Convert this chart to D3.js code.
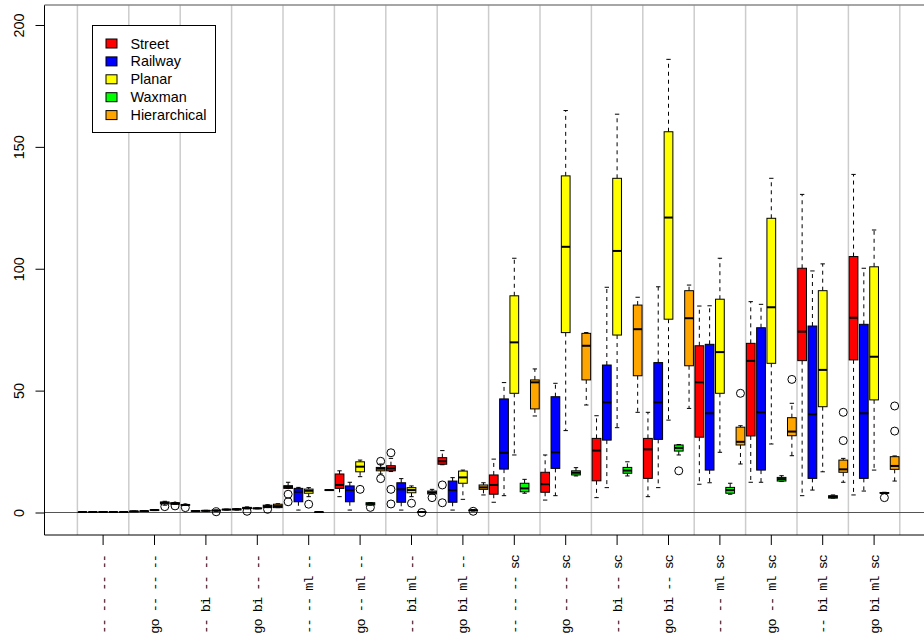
<!DOCTYPE html>
<html>
<head>
<meta charset="utf-8">
<script src="https://cdn.jsdelivr.net/npm/d3@7"></script>
<style>
	body { margin: 0; background: #fff; }
	svg { display: block; }
</style>
</head>
<body>
<div id="chart"></div>
<script>
const groups = ['-- -- -- --', 'go -- -- --', '-- bi -- --', 'go bi -- --', '-- -- ml --', 'go -- ml --', '-- bi ml --', 'go bi ml --',
	'-- -- -- sc', 'go -- -- sc', '-- bi -- sc', 'go bi -- sc', '-- -- ml sc', 'go -- ml sc', '-- bi ml sc', 'go bi ml sc'];
const series = ['Street', 'Railway', 'Planar', 'Waxman', 'Hierarchical'];
const colors = ['#ff0000', '#0000ff', '#ffff00', '#00ff00', '#ffa500'];
const yTicks = [0, 50, 100, 150, 200];

// per group: [lower whisker, q1, median, q3, upper whisker]
const street = [[0.1, 0.1, 0.2, 0.2, 0.3], [0.4, 0.4, 0.5, 0.5, 0.6], [2.9, 3.0, 3.1, 3.2, 3.3], [1.0, 1.1, 1.3, 1.5, 1.6],
	[9.9, 9.9, 10.5, 11, 12.4], [6.5, 9.9, 11.3, 15.8, 17.1], [16.8, 17.1, 18.1, 19.2, 22.2], [19.6, 19.8, 21, 22.5, 25.4],
	[4.2, 7.5, 11.3, 15.4, 21.9], [5.1, 8.3, 11.6, 16.5, 23.6], [6.1, 13, 25.4, 30.4, 39.7], [6.5, 14, 25.9, 30.4, 41.1],
	[11.6, 30.9, 53.4, 68.4, 84.7], [12.4, 31.4, 62.2, 69.4, 86.5], [6.9, 62.3, 74.2, 100.2, 130.5], [7.2, 62.6, 79.9, 105, 138.7]];
const streetOut = [[], [], [2.0], [], [7.5, 4.4], [], [24.5, 9.5, 3.5], [11.3, 4.0], [], [], [], [], [], [], [], []];

const railway = [[0.1, 0.1, 0.2, 0.2, 0.3], [0.5, 0.5, 0.6, 0.6, 0.7], [0.5, 0.5, 0.6, 0.7, 0.8], [1.5, 1.6, 1.8, 2.1, 2.3],
	[1.0, 4.4, 8.5, 9.9, 10.3], [1.0, 4.4, 9.2, 10.9, 12.4], [1.0, 4.2, 9.5, 12.2, 13.9], [1.0, 4.2, 9.2, 12.9, 14.3],
	[6.9, 17.8, 24.5, 46.6, 53.3], [6.9, 18.1, 24.7, 47.5, 53], [10.2, 29.7, 45.2, 60.5, 92.4], [10.2, 30, 45.2, 61.5, 92.6],
	[12.2, 17.4, 40.7, 69, 84.8], [12.4, 17.4, 41.1, 75.8, 85.4], [9.2, 14, 40.3, 76.5, 99.1], [8.8, 14, 40.7, 77.2, 100.2]];
const railwayOut = [[], [], [], [0.5], [], [], [], [], [], [], [], [], [], [], [], []];

const planar = [[0.1, 0.2, 0.2, 0.3, 0.3], [0.8, 0.9, 1.0, 1.1, 1.2], [0.5, 0.6, 0.7, 0.8, 0.9], [1.5, 1.6, 1.7, 1.8, 1.9],
	[6.5, 7.9, 8.9, 9.6, 10.2], [14.7, 16.7, 18.8, 20.8, 21.5], [6.5, 8.1, 9.2, 10.2, 10.9], [5.4, 12, 14.4, 17, 17.4],
	[23.6, 48.9, 69.8, 88.9, 104.3], [33.6, 73.8, 109, 138.1, 164.9], [34.8, 72.8, 107.3, 137.1, 163.4], [37.9, 79.3, 121, 156.2, 185.9],
	[24.7, 48.9, 65.8, 87.5, 104.3], [28.1, 61.2, 84.2, 120.7, 137.1], [16.7, 43.4, 58.5, 91, 102], [17.4, 46.2, 63.9, 100.8, 115.9]];
const planarOut = [[], [], [], [], [3.4], [9.5], [3.8], [], [], [], [], [], [], [], [], []];

const waxman = [[0.1, 0.1, 0.2, 0.2, 0.3], [3.0, 3.5, 4.0, 4.3, 4.6], [0.5, 0.7, 0.8, 0.9, 1.0], [2.0, 2.1, 2.5, 3.0, 3.2],
	[0.1, 0.1, 0.2, 0.2, 0.3], [3.0, 3.1, 3.6, 4.0, 4.1], [0.1, 0.1, 0.2, 0.2, 0.3], [0.6, 0.8, 0.9, 1.0, 1.2],
	[7.9, 8.5, 9.9, 12, 13.6], [15, 15.4, 16.3, 17.1, 18.4], [15, 16.1, 17.2, 18.5, 20.8], [23.6, 25.2, 26.5, 27.7, 27.9],
	[7.5, 7.9, 9.2, 10.3, 12], [12.7, 12.9, 13.7, 14.4, 15.1], [5.9, 5.9, 6.4, 6.9, 7.2], [7.8, 7.9, 8.0, 8.2, 8.3]];
const waxmanOut = [[], [2.4], [0.3], [1.3], [], [2.1], [0.0], [0.5], [], [], [], [17.1], [], [], [], [6.1]];

const hierarchical = [[0.1, 0.1, 0.2, 0.2, 0.3], [3.3, 3.4, 3.7, 4.0, 4.1], [1.0, 1.1, 1.2, 1.3, 1.4], [2.0, 2.0, 2.6, 3.4, 3.6],
	[9.1, 9.1, 9.2, 9.3, 9.3], [15.8, 17.1, 18, 18.5, 19.9], [7.6, 7.6, 8.2, 8.8, 9.5], [7.2, 9.5, 10.3, 11.3, 12.2],
	[39.6, 42.5, 53.4, 54.4, 58.9], [44.1, 54.4, 68.4, 73.5, 73.8], [41.1, 56.1, 75.2, 85.1, 88.3], [42.7, 60.2, 79.7, 91, 93.3],
	[19.9, 27.7, 29, 35, 35.6], [23.3, 31.5, 33.2, 38.9, 44.8], [12.4, 16.5, 17.7, 21.5, 22.2], [12.9, 17.7, 19.1, 22.9, 23.2]];
const hierarchicalOut = [[], [2.7], [], [], [], [21, 13.9], [6.1], [], [], [], [], [], [48.9], [54.6], [41.1, 29.5], [43.7, 33.4]];

const stats = [street, railway, planar, waxman, hierarchical];
const outliers = [streetOut, railwayOut, planarOut, waxmanOut, hierarchicalOut];

const width = 924;
const height = 642;
const plotLeft = 44.5;
const plotRight = 924;
const plotTop = 5;
const plotBottom = 535;

const svg = d3.select('#chart')
	.append('svg')
	.attr('width', width)
	.attr('height', height)
	.attr('viewBox', [0, 0, width, height]);

// scales
const x = d3.scaleBand().domain(groups).range([77.4, 899.8]);
const xs = d3.scaleBand().domain(series).range([0, x.bandwidth()]).paddingInner(0.15).paddingOuter(0.075);
const y = d3.scaleLinear().domain([-9.23, 208.2]).range([plotBottom, plotTop]);

let boxes = [];
series.forEach((s, si) => {
	groups.forEach((g, gi) => {
		const st = stats[si][gi];
		boxes.push({ series: s, group: g, color: colors[si], lo: st[0], q1: st[1], med: st[2], q3: st[3], hi: st[4], out: outliers[si][gi] });
	});
});
const cx = (d) => x(d.group) + xs(d.series) + xs.bandwidth() / 2;
const bw = xs.bandwidth();

// group separators
svg.append('g')
	.selectAll('line')
	.data(groups.concat(['end']))
	.enter()
	.append('line')
	.attr('x1', (d) => d === 'end' ? x.range()[1] : x(d))
	.attr('x2', (d) => d === 'end' ? x.range()[1] : x(d))
	.attr('y1', plotTop)
	.attr('y2', plotBottom)
	.style('stroke', '#cccccc')
	.style('stroke-width', 1.5);

// zero line
svg.append('line')
	.attr('x1', plotLeft).attr('x2', plotRight)
	.attr('y1', y(0)).attr('y2', y(0))
	.style('stroke', '#555')
	.style('stroke-width', 1);

const bx = svg.append('g').selectAll('g').data(boxes).enter().append('g');

// whiskers
bx.append('line')
	.attr('x1', cx).attr('x2', cx)
	.attr('y1', (d) => y(d.q3)).attr('y2', (d) => y(d.hi))
	.style('stroke', '#000').style('stroke-dasharray', '4,4');
bx.append('line')
	.attr('x1', cx).attr('x2', cx)
	.attr('y1', (d) => y(d.q1)).attr('y2', (d) => y(d.lo))
	.style('stroke', '#000').style('stroke-dasharray', '4,4');
bx.selectAll('.staple')
	.data((d) => [[d, d.hi], [d, d.lo]])
	.enter()
	.append('line')
	.attr('class', 'staple')
	.attr('x1', (p) => cx(p[0]) - bw / 4).attr('x2', (p) => cx(p[0]) + bw / 4)
	.attr('y1', (p) => y(p[1])).attr('y2', (p) => y(p[1]))
	.style('stroke', '#000');

// boxes
bx.append('rect')
	.attr('x', (d) => cx(d) - bw / 2)
	.attr('width', bw)
	.attr('y', (d) => y(d.q3))
	.attr('height', (d) => Math.max(y(d.q1) - y(d.q3), 0.5))
	.style('fill', (d) => d.color)
	.style('stroke', '#000')
	.style('stroke-width', 1);
bx.append('line')
	.attr('x1', (d) => cx(d) - bw / 2).attr('x2', (d) => cx(d) + bw / 2)
	.attr('y1', (d) => y(d.med)).attr('y2', (d) => y(d.med))
	.style('stroke', '#000').style('stroke-width', 2);

// outliers
bx.selectAll('circle')
	.data((d) => d.out.map((v) => [d, v]))
	.enter()
	.append('circle')
	.attr('cx', (p) => cx(p[0]))
	.attr('cy', (p) => y(p[1]))
	.attr('r', 4)
	.style('fill', 'none')
	.style('stroke', '#000');

// axes
const yAxis = svg.append('g')
	.attr('transform', 'translate(' + plotLeft + ',0)')
	.call(d3.axisLeft(y).tickValues(yTicks).tickSize(9).tickSizeOuter(0));
yAxis.select('.domain').remove();
yAxis.selectAll('text')
	.attr('x', null).attr('dy', null)
	.attr('transform', 'translate(-20.5,0) rotate(-90)')
	.attr('text-anchor', 'middle')
	.style('font-family', '"Liberation Sans", Arial, sans-serif')
	.style('font-size', '14.4px')
	.style('fill', '#000');

const xAxis = svg.append('g')
	.attr('transform', 'translate(0,' + plotBottom + ')')
	.call(d3.axisBottom(x).tickSize(10).tickSizeOuter(0));
xAxis.select('.domain').remove();
xAxis.selectAll('text')
	.attr('y', null).attr('dy', null)
	.attr('transform', 'translate(4.5,20) rotate(-90)')
	.attr('text-anchor', 'end')
	.style('font-family', '"Liberation Mono", "Courier New", monospace')
	.style('font-size', '13.5px')
	.style('letter-spacing', '-0.95px')
	.style('fill', '#000');

svg.append('line')
	.attr('x1', plotLeft).attr('x2', plotLeft)
	.attr('y1', plotTop).attr('y2', plotBottom)
	.style('stroke', '#000');
svg.append('line')
	.attr('x1', plotLeft).attr('x2', plotRight)
	.attr('y1', plotBottom).attr('y2', plotBottom)
	.style('stroke', '#000');
svg.append('line')
	.attr('x1', plotLeft).attr('x2', plotRight)
	.attr('y1', plotTop).attr('y2', plotTop)
	.style('stroke', '#888')
	.style('stroke-width', 1.5);

// legend
const legend = svg.append('g').attr('transform', 'translate(92.5,25.5)');
legend.append('rect')
	.attr('width', 123).attr('height', 107)
	.style('fill', '#fff').style('stroke', '#000');
const rows = legend.selectAll('.row')
	.data(series)
	.enter()
	.append('g')
	.attr('class', 'row')
	.attr('transform', (d, i) => 'translate(0,' + (18 + i * 17.9) + ')');
rows.append('rect')
	.attr('x', 13.5).attr('y', -4.5)
	.attr('width', 11).attr('height', 9)
	.style('fill', (d, i) => colors[i])
	.style('stroke', '#000');
rows.append('text')
	.attr('x', 38).attr('y', 5)
	.text((d) => d)
	.style('font-family', '"Liberation Sans", Arial, sans-serif')
	.style('font-size', '14.4px');
</script>
</body>
</html>
